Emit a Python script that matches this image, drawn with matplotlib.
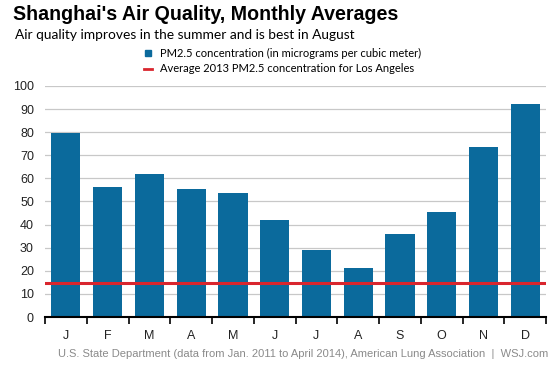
import numpy as np
import matplotlib.pyplot as plt

months = ["J", "F", "M", "A", "M", "J", "J", "A", "S", "O", "N", "D"]
pm25 = [79.5, 56.3, 62.0, 55.5, 53.5, 42.1, 29.0, 21.1, 35.9, 45.6, 73.5, 92.1]
la_avg = 14.6
yticks = list(range(0, 101, 10))

bar_color = "#0b6a9c"
red = "#d9262e"

fig = plt.figure(figsize=(5.57, 3.65), dpi=100)
ax = fig.add_axes([0.0808, 0.1315, 0.8995, 0.6329])

x = np.arange(len(months))
ax.bar(x, pm25, width=0.7, color=bar_color, zorder=2)
ax.axhline(la_avg, color=red, lw=2.2, zorder=3)

ax.set_xlim(-0.5, len(months) - 0.5)
ax.set_ylim(0, 100)
ax.set_yticks(yticks)
ax.set_yticklabels([str(t) for t in yticks], fontsize=9, family="Liberation Sans", color="#222222")
ax.tick_params(axis="y", length=0, pad=8)
ax.yaxis.grid(True, color="#c8c8c8", lw=0.9, zorder=0)

ax.set_xticks(np.arange(-0.5, len(months), 1.0))
ax.set_xticklabels([])
ax.set_xticks(x, minor=True)
ax.set_xticklabels(months, minor=True, fontsize=9, family="Liberation Sans", color="#222222")
ax.tick_params(axis="x", which="major", length=5, width=1.2, color="black", direction="out")
ax.tick_params(axis="x", which="minor", length=0, pad=9)

for s in ["top", "right", "left"]:
    ax.spines[s].set_visible(False)
ax.spines["bottom"].set_linewidth(1.5)
ax.spines["bottom"].set_zorder(4)

fig.text(13 / 557, 1 - 14 / 365, "Shanghai's Air Quality, Monthly Averages",
         fontsize=14.1, fontweight="bold", family="Liberation Sans", va="center")
fig.text(15 / 557, 1 - 35 / 365, "Air quality improves in the summer and is best in August",
         fontsize=9.95, family="Lato", va="center")

# legend
fig.patches.append(plt.Rectangle((145 / 557, 1 - 56 / 365), 6 / 557, 6 / 365,
                                 transform=fig.transFigure, color=bar_color))
fig.add_artist(plt.Line2D([144 / 557, 152 / 557], [1 - 69 / 365, 1 - 69 / 365],
                          transform=fig.transFigure, color=red, lw=2))
fig.text(160 / 557, 1 - 53 / 365, "PM2.5 concentration (in micrograms per cubic meter)",
         fontsize=8.0, family="Lato", va="center")
fig.text(160 / 557, 1 - 69 / 365, "Average 2013 PM2.5 concentration for Los Angeles",
         fontsize=8.0, family="Lato", va="center")

fig.text(548 / 557, 1 - 354 / 365,
         "U.S. State Department (data from Jan. 2011 to April 2014), American Lung Association  |  WSJ.com",
         fontsize=8.0, family="Liberation Sans", color="#8a8a8a", ha="right", va="center")

fig.savefig("out.png", dpi=100)
